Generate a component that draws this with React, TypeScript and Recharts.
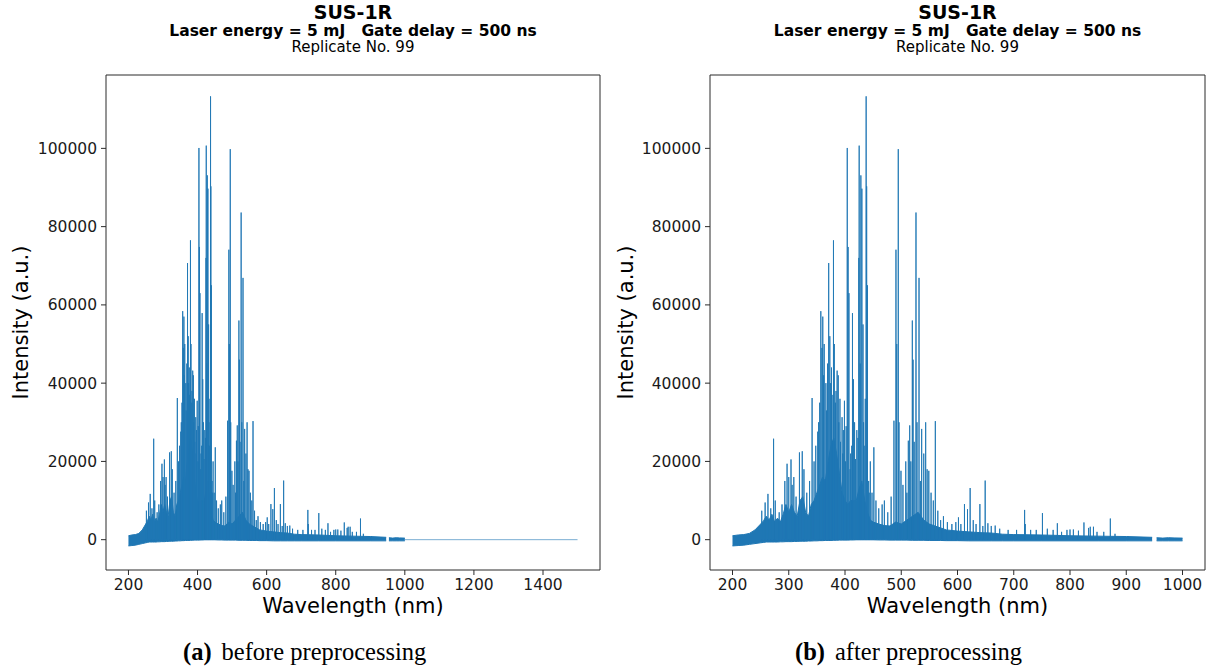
import React from "react";
import { ComposedChart, Line, Area, XAxis, YAxis, ReferenceLine } from "recharts";

// Continuum (noise band) of the emission spectrum: lower / upper envelope, a.u.
const bandNm = [200, 210, 220, 230, 240, 250, 255, 260, 265, 270, 275, 280, 285, 290, 295, 300, 305, 310, 315, 320, 325, 330, 335, 340, 345, 350, 355, 360, 365, 370, 375, 380, 385, 390, 395, 400, 405, 410, 415, 420, 425, 430, 435, 440, 445, 450, 460, 470, 480, 490, 500, 510, 520, 530, 540, 550, 560, 570, 580, 600, 620, 640, 660, 680, 700, 750, 800, 850, 900, 946];
const bandLow = [-1600, -1500, -1400, -1200, -1000, -800, -700, -600, -600, -600, -600, -600, -550, -550, -500, -500, -500, -450, -450, -400, -400, -400, -350, -350, -300, -300, -250, -250, -200, -200, -200, -150, -150, -100, -100, -100, -100, -50, -50, 0, 0, 0, 0, 0, 0, 0, -50, -50, -100, -100, -100, -100, -150, -150, -150, -200, -200, -200, -250, -250, -300, -300, -300, -300, -300, -300, -300, -300, -300, -300];
const bandHigh = [1000, 1200, 1300, 1600, 2500, 4000, 4800, 6000, 5000, 6500, 4500, 5500, 4500, 6500, 9000, 7000, 9000, 7000, 6000, 10000, 11000, 7000, 6000, 9000, 10000, 12000, 14000, 16000, 15000, 20000, 24000, 26000, 22000, 17000, 12000, 10000, 9000, 10000, 10000, 10000, 13000, 15000, 10000, 7000, 5000, 4500, 4000, 3600, 3500, 4500, 4000, 5000, 6000, 7000, 5000, 4000, 3500, 3000, 2500, 2200, 2000, 1800, 1700, 1400, 1300, 1200, 1000, 900, 800, 600];

// Last detector segment (after the small gap near 950 nm)
const tailBandNm = [954, 965, 975, 985, 1000];
const tailBandLow = [-300, -300, -300, -300, -300];
const tailBandHigh = [500, 400, 500, 450, 400];

// Emission lines: wavelength (nm) and peak intensity (a.u.)
const peakNm = [252, 258, 263, 268, 273, 276, 283, 288, 293, 297, 300, 304, 306, 309, 313, 319, 324, 327, 332, 337, 341.5, 345, 348, 351.5, 353, 355, 357, 359, 360.5, 362, 363, 366, 367, 369, 371, 373, 374, 376, 377, 379.5, 381, 383, 384, 386, 388, 389, 391, 392, 394.8, 396, 397, 399, 401, 402, 404, 405.5, 407, 409, 410, 412, 413.3, 415, 417, 418.7, 421, 423, 424.6, 425.2, 427, 428.2, 430, 432, 433, 434, 436, 437.6, 438.5, 440, 442, 443, 445, 448, 451.3, 455, 460, 466, 470, 476, 482, 487, 490.6, 492, 494.7, 496, 499.5, 503, 508, 510, 512.6, 515, 517, 519.7, 521, 523, 526.2, 528, 531.6, 534, 536.3, 540, 543.4, 546, 549, 553, 557, 560.6, 565, 570, 575, 582, 590, 597, 601.7, 606, 612.4, 617.8, 622.5, 628, 633, 639.8, 645, 649.2, 654, 660, 667, 675, 690, 705, 719.3, 720.5, 730, 740, 751, 759.7, 770, 777.5, 785, 794.6, 800, 806, 815, 824.8, 833, 836, 841.7, 848, 860, 871.7, 880, 903];
const peakIntensity = [7400, 9500, 11700, 8000, 25800, 10000, 7000, 9000, 15000, 19400, 16000, 20500, 14000, 16000, 11000, 22300, 22600, 18000, 12000, 15000, 36200, 20000, 24000, 27600, 30000, 35000, 58400, 49000, 57000, 42000, 50000, 40000, 33000, 45000, 70700, 52000, 40000, 44000, 37000, 76500, 50000, 35000, 38000, 43200, 42000, 30000, 36000, 25000, 31300, 22000, 28000, 35500, 20000, 29000, 100100, 74800, 63000, 18000, 22000, 24000, 57900, 41000, 30000, 20600, 28000, 26000, 72000, 100700, 45000, 93100, 89700, 55000, 30000, 24000, 36000, 113300, 90300, 65000, 15000, 12000, 20000, 12000, 23600, 10000, 8000, 9000, 10000, 7000, 11000, 30400, 74100, 50000, 99800, 30000, 17600, 14000, 20000, 12000, 25300, 29200, 20000, 56000, 46000, 25000, 83600, 30000, 66900, 15000, 28300, 22000, 30000, 18000, 17600, 12000, 10000, 30300, 7400, 5000, 6000, 4500, 4000, 4500, 5700, 4000, 9100, 7800, 13200, 5000, 4000, 9100, 3500, 15100, 4200, 3500, 3600, 2800, 2500, 2500, 7600, 4000, 2500, 2500, 6800, 2800, 2500, 4200, 2000, 2500, 2600, 2600, 2300, 4400, 3000, 3300, 3300, 2000, 2000, 5400, 1500, 900];

// Raw spectrum is zero-padded from 1000 to 1500 nm
const padNm = [1000, 1500];
const padIntensity = [0, 0];

const xTicksRaw = [200, 400, 600, 800, 1000, 1200, 1400];
const xTicksClean = [200, 300, 400, 500, 600, 700, 800, 900, 1000];
const yTicks = [0, 20000, 40000, 60000, 80000, 100000];
const yDomain: [number, number] = [-7750, 118750];

const BLUE = "#1f77b4";
const INK = "#1a1a1a";
const SPINE = "#2b2b2b";
const SANS = "'DejaVu Sans', sans-serif";

const bandData = bandNm.map((nm, i) => ({ nm, range: [bandLow[i], bandHigh[i]] }));
const tailBandData = tailBandNm.map((nm, i) => ({ nm, range: [tailBandLow[i], tailBandHigh[i]] }));
const peakData = peakNm.flatMap((nm, i) => [
  { nm, v: 0 },
  { nm, v: peakIntensity[i] },
  { nm, v: 0 },
]);
const padData = padNm.map((nm, i) => ({ nm, v: padIntensity[i] }));

const tickStyle = { fontSize: 15.5, fill: INK, fontFamily: SANS };

type PanelProps = {
  width: number;
  xDomain: [number, number];
  xTicks: number[];
  showPad: boolean;
};

function SpectrumPanel({ width, xDomain, xTicks, showPad }: PanelProps) {
  return (
    <ComposedChart width={width} height={670} margin={{ top: 75, right: 10, bottom: 0, left: 0 }}>
      <XAxis
        dataKey="nm"
        type="number"
        domain={xDomain}
        ticks={xTicks}
        interval={0}
        allowDataOverflow
        height={100}
        tickSize={5}
        tickMargin={4}
        tick={tickStyle}
        axisLine={{ stroke: SPINE, strokeWidth: 1 }}
        tickLine={{ stroke: SPINE, strokeWidth: 1 }}
      />
      <YAxis
        type="number"
        domain={yDomain}
        ticks={yTicks}
        interval={0}
        allowDataOverflow
        width={106}
        tickSize={5}
        tickMargin={4}
        tick={tickStyle}
        axisLine={{ stroke: SPINE, strokeWidth: 1 }}
        tickLine={{ stroke: SPINE, strokeWidth: 1 }}
      />
      <Area
        data={bandData}
        dataKey="range"
        type="linear"
        stroke={BLUE}
        strokeWidth={1}
        fill={BLUE}
        fillOpacity={1}
        dot={false}
        activeDot={false}
        isAnimationActive={false}
      />
      <Area
        data={tailBandData}
        dataKey="range"
        type="linear"
        stroke={BLUE}
        strokeWidth={1}
        fill={BLUE}
        fillOpacity={1}
        dot={false}
        activeDot={false}
        isAnimationActive={false}
      />
      <Line
        data={peakData}
        dataKey="v"
        type="linear"
        stroke={BLUE}
        strokeWidth={0.9}
        dot={false}
        activeDot={false}
        isAnimationActive={false}
      />
      {showPad && (
        <Line
          data={padData}
          dataKey="v"
          type="linear"
          stroke={BLUE}
          strokeWidth={1}
          strokeOpacity={0.6}
          dot={false}
          activeDot={false}
          isAnimationActive={false}
        />
      )}
      {/* closing spines of the axes box */}
      <ReferenceLine y={yDomain[1]} stroke={SPINE} strokeWidth={1} />
      <ReferenceLine x={xDomain[1]} stroke={SPINE} strokeWidth={1} />
    </ComposedChart>
  );
}

function Headings({ cx }: { cx: number }) {
  return (
    <g fontFamily={SANS} fill="#000" textAnchor="middle">
      <text x={cx} y={18.5} fontSize={19} fontWeight="bold">SUS-1R</text>
      <text x={cx} y={36} fontSize={15.5} fontWeight="bold" style={{ whiteSpace: "pre" }}>
        {"Laser energy = 5 mJ   Gate delay = 500 ns"}
      </text>
      <text x={cx} y={52} fontSize={15}>Replicate No. 99</text>
    </g>
  );
}

export default function App() {
  return (
    <div style={{ position: "absolute", left: 0, top: 0, width: 1215, height: 670, background: "#fff", overflow: "hidden" }}>
      <div style={{ position: "absolute", left: 0, top: 0 }}>
        <SpectrumPanel width={610} xDomain={[135, 1565]} xTicks={xTicksRaw} showPad />
      </div>
      <div style={{ position: "absolute", left: 604, top: 0 }}>
        <SpectrumPanel width={611} xDomain={[160, 1040]} xTicks={xTicksClean} showPad={false} />
      </div>
      <svg width={1215} height={670} style={{ position: "absolute", left: 0, top: 0, pointerEvents: "none" }}>
        <Headings cx={353} />
        <Headings cx={957.5} />
        <g fontFamily={SANS} fill="#000" fontSize={21} textAnchor="middle">
          <text x={353} y={612.5}>Wavelength (nm)</text>
          <text x={957.5} y={612.5}>Wavelength (nm)</text>
          <text transform="translate(28,322.5) rotate(-90)">Intensity (a.u.)</text>
          <text transform="translate(633,322.5) rotate(-90)">Intensity (a.u.)</text>
        </g>
        <g fontFamily="'Liberation Serif', 'DejaVu Serif', serif" fill="#000" fontSize={24.5}>
          <text x={183} y={660}>
            <tspan fontWeight="bold">(a)</tspan>
            <tspan dx={10}>before preprocessing</tspan>
          </text>
          <text x={795} y={660}>
            <tspan fontWeight="bold">(b)</tspan>
            <tspan dx={10}>after preprocessing</tspan>
          </text>
        </g>
      </svg>
    </div>
  );
}
